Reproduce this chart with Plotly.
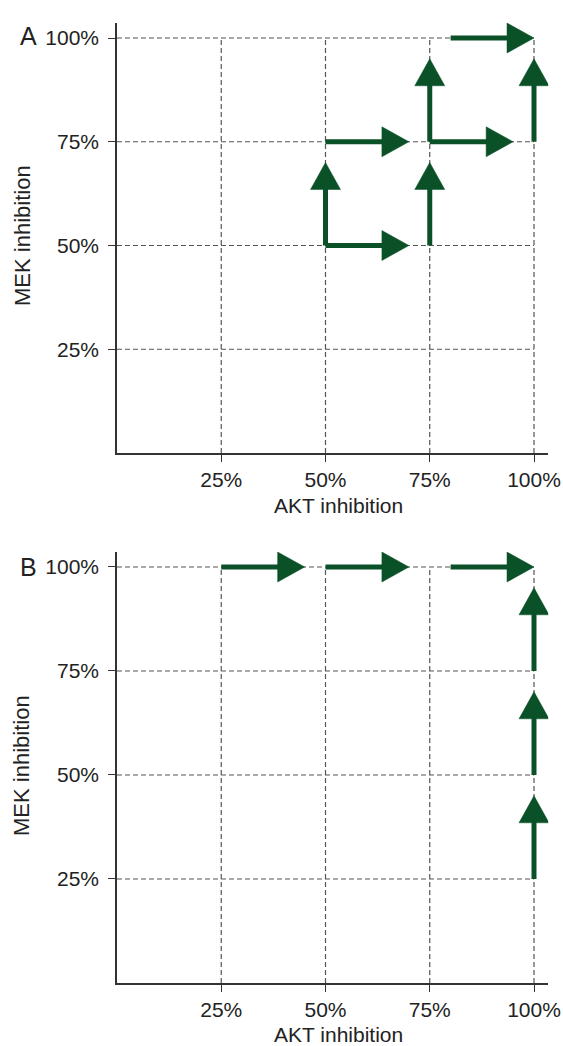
import math
import plotly.graph_objects as go

# ---------------- data ----------------
pct_ticks = [25, 50, 75, 100]
tick_text = ["25%", "50%", "75%", "100%"]
x_title = "AKT inhibition"
y_title = "MEK inhibition"
panel_labels = ["A", "B"]

# Panel A arrows: start (x0, y0) -> tip (x1, y1), in % inhibition
a_x0 = [50, 50, 50, 75, 75, 75, 80, 100]
a_y0 = [50, 50, 75, 50, 75, 75, 100, 75]
a_x1 = [70, 50, 70, 75, 75, 95, 100, 100]
a_y1 = [50, 70, 75, 70, 95, 75, 100, 95]

# Panel B arrows
b_x0 = [25, 50, 80, 100, 100, 100]
b_y0 = [100, 100, 100, 75, 50, 25]
b_x1 = [45, 70, 100, 100, 100, 100]
b_y1 = [100, 100, 100, 95, 70, 45]

# ---------------- layout geometry ----------------
W, H = 563, 1046
FONT = "Liberation Sans, Arial, Helvetica, sans-serif"
GREEN = "#0b5128"
GRID = "#555555"
AXC = "#333333"
FS = 21

X0_PX = 117.0
PX_X = 4.17
XMAX = 103.4
panels = [
    dict(y0px=453.0, px_y=4.15, ymax=103.7, xa="x", ya="y"),
    dict(y0px=983.0, px_y=4.16, ymax=103.7, xa="x2", ya="y2"),
]
HEAD_L = 27.0   # px
HEAD_HW = 15.0  # px
SHAFT_W = 5

fig = go.Figure()


def grid_trace(xa, ya):
    xs, ys = [], []
    for v in pct_ticks:
        xs += [0, 100, None]
        ys += [v, v, None]
        xs += [v, v, None]
        ys += [0, 100, None]
    return go.Scatter(x=xs, y=ys, xaxis=xa, yaxis=ya, mode="lines",
                      line=dict(color=GRID, width=1.2, dash="5px,3px"),
                      hoverinfo="skip", showlegend=False)


def arrow_traces(x0s, y0s, x1s, y1s, p):
    sx, sy, hx, hy = [], [], [], []
    for x0, y0, x1, y1 in zip(x0s, y0s, x1s, y1s):
        dxp = (x1 - x0) * PX_X
        dyp = (y1 - y0) * p["px_y"]
        n = math.hypot(dxp, dyp)
        ux, uy = dxp / n, dyp / n
        bx = x1 - ux * HEAD_L / PX_X
        by = y1 - uy * HEAD_L / p["px_y"]
        sx += [x0, x1 - ux * (HEAD_L - 2) / PX_X, None]
        sy += [y0, y1 - uy * (HEAD_L - 2) / p["px_y"], None]
        px_, py_ = -uy, ux
        hx += [bx + px_ * HEAD_HW / PX_X, x1, bx - px_ * HEAD_HW / PX_X,
               bx + px_ * HEAD_HW / PX_X, None]
        hy += [by + py_ * HEAD_HW / p["px_y"], y1, by - py_ * HEAD_HW / p["px_y"],
               by + py_ * HEAD_HW / p["px_y"], None]
    shaft = go.Scatter(x=sx, y=sy, xaxis=p["xa"], yaxis=p["ya"], mode="lines",
                       line=dict(color=GREEN, width=SHAFT_W),
                       hoverinfo="skip", showlegend=False)
    head = go.Scatter(x=hx, y=hy, xaxis=p["xa"], yaxis=p["ya"], mode="lines",
                      fill="toself", fillcolor=GREEN,
                      line=dict(color=GREEN, width=0.5),
                      hoverinfo="skip", showlegend=False)
    return [shaft, head]


def axis_heads(p):
    size = 11
    r = size / 2
    xoff = (r / 2) / PX_X
    yoff = (r / 2) / p["px_y"]
    return [
        go.Scatter(x=[XMAX + xoff], y=[0], xaxis=p["xa"], yaxis=p["ya"],
                   mode="markers", cliponaxis=False,
                   marker=dict(symbol="triangle-right", size=size, color=AXC,
                               line=dict(width=0)),
                   hoverinfo="skip", showlegend=False),
        go.Scatter(x=[0], y=[p["ymax"] + yoff], xaxis=p["xa"], yaxis=p["ya"],
                   mode="markers", cliponaxis=False,
                   marker=dict(symbol="triangle-up", size=size, color=AXC,
                               line=dict(width=0)),
                   hoverinfo="skip", showlegend=False),
    ]


arrows = [(a_x0, a_y0, a_x1, a_y1), (b_x0, b_y0, b_x1, b_y1)]
for p, arr in zip(panels, arrows):
    fig.add_trace(grid_trace(p["xa"], p["ya"]))
    for t in arrow_traces(*arr, p):
        fig.add_trace(t)
    for t in axis_heads(p):
        fig.add_trace(t)

xdom = [X0_PX / W, (X0_PX + XMAX * PX_X) / W]
common_x = dict(range=[0, XMAX], domain=xdom, showgrid=False, zeroline=False,
                showline=True, linecolor=AXC, linewidth=1.5,
                ticks="outside", ticklen=7, tickwidth=1.2, tickcolor=AXC,
                tickvals=pct_ticks, ticktext=tick_text, ticklabelstandoff=0,
                tickfont=dict(family=FONT, size=FS, color="#222"),
                fixedrange=True, automargin=False)
common_y = dict(showgrid=False, zeroline=False,
                showline=True, linecolor=AXC, linewidth=1.5,
                ticks="outside", ticklen=7, tickwidth=1.2, tickcolor=AXC,
                tickvals=pct_ticks, ticktext=tick_text, ticklabelstandoff=5,
                tickfont=dict(family=FONT, size=FS, color="#222"),
                fixedrange=True, automargin=False)

layout_axes = {}
for i, p in enumerate(panels):
    top_px = p["y0px"] - p["ymax"] * p["px_y"]
    ydom = [(H - p["y0px"]) / H, (H - top_px) / H]
    sfx = "" if i == 0 else "2"
    layout_axes["xaxis" + sfx] = dict(common_x, anchor="y" + sfx)
    layout_axes["yaxis" + sfx] = dict(common_y, range=[0, p["ymax"]], domain=ydom,
                                      anchor="x" + sfx)

annotations = []
title_y_px = [505, 1034]
ylab_y_px = [236, 766]
panel_y_px = [36, 567]
for i in range(2):
    annotations.append(dict(text=x_title, x=338 / W, y=(H - title_y_px[i]) / H,
                            xref="paper", yref="paper", showarrow=False,
                            xanchor="center", yanchor="middle", borderpad=0,
                            font=dict(family=FONT, size=FS, color="#222")))
    annotations.append(dict(text=y_title, x=22 / W, y=(H - ylab_y_px[i]) / H,
                            xref="paper", yref="paper", showarrow=False,
                            textangle=-90, xanchor="center", yanchor="middle",
                            font=dict(family=FONT, size=22, color="#222")))
    annotations.append(dict(text=panel_labels[i], x=28 / W, y=(H - panel_y_px[i]) / H,
                            xref="paper", yref="paper", showarrow=False,
                            xanchor="center", yanchor="middle",
                            font=dict(family=FONT, size=25, color="#222")))

fig.update_layout(
    width=W, height=H,
    margin=dict(l=0, r=0, t=0, b=0),
    paper_bgcolor="white", plot_bgcolor="white",
    showlegend=False,
    annotations=annotations,
    **layout_axes,
)

fig.write_html("out.html", config={"displayModeBar": False},
               post_script="document.body.style.margin='0';document.body.style.overflow='hidden';")
